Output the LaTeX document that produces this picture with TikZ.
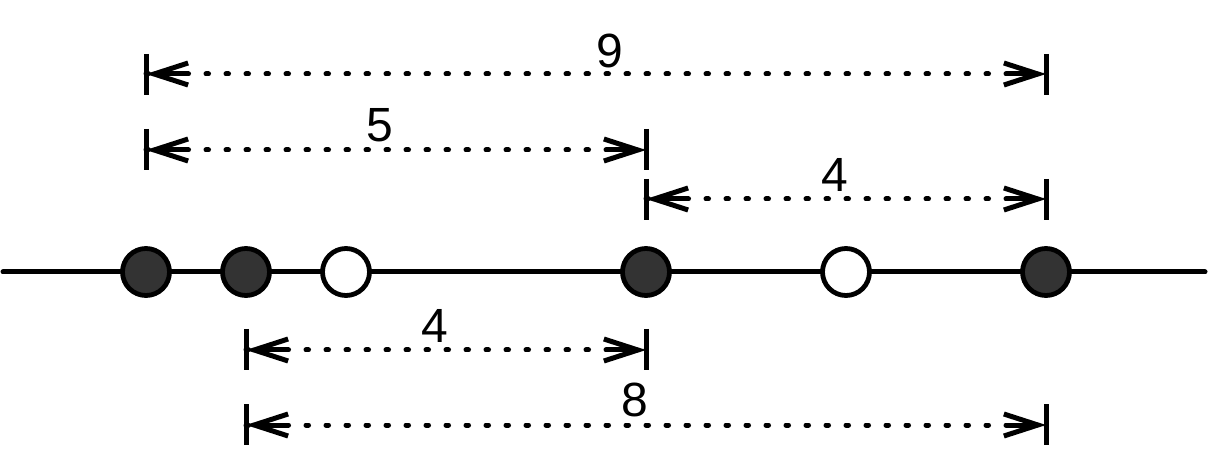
\documentclass[tikz,border=0pt]{standalone}
\usepackage{fontspec}
\setmainfont{Liberation Sans}
\usetikzlibrary{arrows.meta}
\definecolor{dotfill}{HTML}{333333}
\tikzset{
  full/.style={circle, minimum size=47pt, inner sep=0pt, line width=4.8pt, draw=black, fill=dotfill},
  empty/.style={circle, minimum size=47pt, inner sep=0pt, line width=4.8pt, draw=black, fill=white},
  axis/.style={line width=5pt, line cap=round},
  tick/.style={line width=5pt},
  dimline/.style={line width=5pt, dash pattern=on 2.5pt off 17.5pt, line cap=round},
  barb/.style={line width=5pt, -{Straight Barb[length=34pt,width=22pt,line width=5pt]}},
  lab/.style={font=\fontsize{48}{50}\selectfont, inner sep=0pt}
}
\begin{document}
\begin{tikzpicture}[x=1pt,y=-1pt]
\useasboundingbox[fill=white] (0,0) rectangle (1208,454);
% axis
\coordinate (L) at (3,272);
\coordinate (R) at (1205,272);
\draw[axis] (L) -- (R);
\node[full]  (p1) at (146,272) {};
\node[full]  (p2) at (246,272) {};
\node[empty] (p3) at (346,272) {};
\node[full]  (p4) at (646,272) {};
\node[empty] (p5) at (846,272) {};
\node[full]  (p6) at (1046,272) {};

% dimension 9
\coordinate (a9) at (146,74); \coordinate (b9) at (1046,74);
\draw[tick] (146,54) -- (146,95);
\draw[tick] (1046,54) -- (1046,95);
\draw[dimline] (a9) -- (b9);
\draw[barb] ([xshift=40pt]a9) -- (a9);
\draw[barb] ([xshift=-40pt]b9) -- (b9);
\node[lab] (t9) at (610,51) {9};

% dimension 5
\coordinate (a5) at (146,150); \coordinate (b5) at (646,150);
\draw[tick] (146,129) -- (146,170);
\draw[tick] (646,129) -- (646,170);
\draw[dimline] (a5) -- (b5);
\draw[barb] ([xshift=40pt]a5) -- (a5);
\draw[barb] ([xshift=-40pt]b5) -- (b5);
\node[lab] (t5) at (380,125) {5};

% dimension 4 (upper)
\coordinate (a4) at (646,199); \coordinate (b4) at (1046,199);
\draw[tick] (646,179) -- (646,220);
\draw[tick] (1046,179) -- (1046,220);
\draw[dimline] (a4) -- (b4);
\draw[barb] ([xshift=40pt]a4) -- (a4);
\draw[barb] ([xshift=-40pt]b4) -- (b4);
\node[lab] (t4) at (835,175) {4};

% dimension 4 (lower)
\coordinate (c4) at (246,350); \coordinate (d4) at (646,350);
\draw[tick] (246,329) -- (246,370);
\draw[tick] (646,329) -- (646,370);
\draw[dimline] (c4) -- (d4);
\draw[barb] ([xshift=40pt]c4) -- (c4);
\draw[barb] ([xshift=-40pt]d4) -- (d4);
\node[lab] (u4) at (435,326) {4};

% dimension 8
\coordinate (a8) at (246,425); \coordinate (b8) at (1046,425);
\draw[tick] (246,404) -- (246,445);
\draw[tick] (1046,404) -- (1046,445);
\draw[dimline] (a8) -- (b8);
\draw[barb] ([xshift=40pt]a8) -- (a8);
\draw[barb] ([xshift=-40pt]b8) -- (b8);
\node[lab] (t8) at (635,400) {8};
\end{tikzpicture}
\end{document}
